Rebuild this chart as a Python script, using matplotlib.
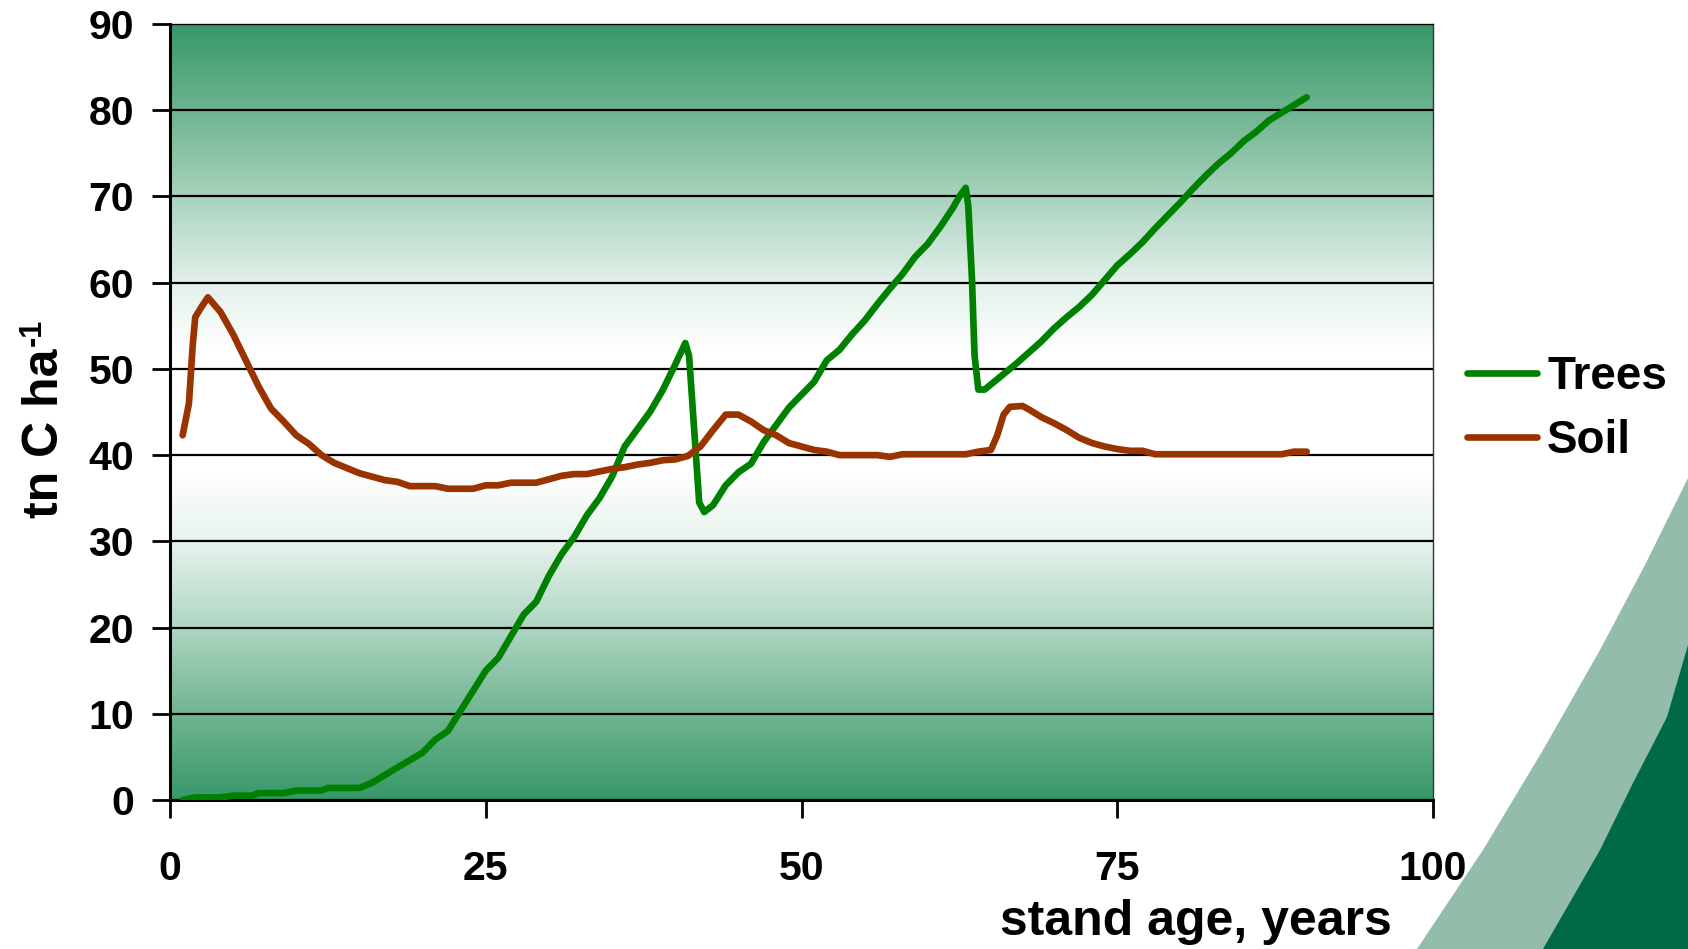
import numpy as np
import matplotlib
matplotlib.use("Agg")
import matplotlib.pyplot as plt
from matplotlib.patches import Polygon

plt.rcParams['font.family'] = ['Liberation Sans', 'DejaVu Sans']
plt.rcParams['font.weight'] = 'bold'

# ---- data ----
trees_x = [1, 2, 4, 5, 6.5, 7, 9, 10, 12, 12.5, 15, 16, 17.7, 20, 21, 22, 25, 26, 27, 28, 29, 30,
           31, 32, 33, 34, 35, 36, 37, 38, 39, 40, 40.8, 41.1, 41.5, 41.9, 42.3, 43, 44, 45, 46,
           47, 48, 49, 50, 51, 52, 53, 54, 55, 56, 57, 58, 59, 60, 61, 62, 62.5, 63, 63.2, 63.5,
           63.7, 64, 64.5, 65, 66, 67, 68, 69, 70, 71, 72, 73, 74, 75, 76, 77, 78, 79, 80, 81, 82,
           83, 84, 85, 86, 87, 88, 89, 90]
trees_y = [0, 0.3, 0.3, 0.5, 0.5, 0.8, 0.8, 1.1, 1.1, 1.4, 1.4, 2.0, 3.5, 5.5, 7, 8, 15, 16.5, 19,
           21.5, 23, 26, 28.5, 30.5, 33, 35, 37.5, 41, 43, 45, 47.5, 50.5, 53, 51.5, 43, 34.5,
           33.4, 34.2, 36.5, 38, 39, 41.5, 43.5, 45.5, 47, 48.5, 51, 52.2, 54, 55.6, 57.5, 59.3,
           61, 63, 64.5, 66.5, 68.7, 70, 71, 69, 60.3, 51.6, 47.6, 47.6, 48.2, 49.4, 50.6, 51.9,
           53.2, 54.7, 56, 57.2, 58.6, 60.3, 62, 63.3, 64.7, 66.3, 67.8, 69.3, 70.9, 72.4, 73.8,
           75, 76.4, 77.5, 78.8, 79.7, 80.6, 81.5]

soil_x = [1, 1.5, 1.8, 2, 2.5, 3, 4, 5, 6, 7, 8, 9, 10, 11, 12, 13, 14, 15, 16, 17, 18, 19, 21,
          22, 24, 25, 26, 27, 29, 30, 31, 32, 33, 34, 35, 36, 37, 38, 39, 40, 41, 42, 43, 44, 45,
          46, 47, 48, 49, 50, 51, 52, 53, 56, 57, 58, 63, 64, 65, 65.5, 66, 66.5, 67.5, 68, 69,
          70, 71, 72, 73, 74, 75, 76, 77, 78, 88, 89, 90]
soil_y = [42.3, 46, 52.8, 56, 57.2, 58.3, 56.6, 54, 51, 48, 45.4, 43.9, 42.3, 41.3, 40, 39.1,
          38.5, 37.9, 37.5, 37.1, 36.9, 36.4, 36.4, 36.1, 36.1, 36.5, 36.5, 36.8, 36.8, 37.2,
          37.6, 37.8, 37.8, 38.1, 38.4, 38.6, 38.9, 39.1, 39.4, 39.5, 39.9, 41, 42.9, 44.7, 44.7,
          43.9, 42.9, 42.3, 41.4, 41, 40.6, 40.4, 40, 40, 39.8, 40.1, 40.1, 40.4, 40.6, 42.3,
          44.7, 45.6, 45.7, 45.3, 44.4, 43.7, 42.9, 42, 41.4, 41, 40.7, 40.5, 40.5, 40.1, 40.1,
          40.4, 40.4]

x_ticks = [0, 25, 50, 75, 100]
y_ticks = [0, 10, 20, 30, 40, 50, 60, 70, 80, 90]

# ---- figure ----
W, H = 1688, 949
fig = plt.figure(figsize=(W / 100, H / 100), dpi=100)
fig.patch.set_facecolor('white')

# decorative swooshes bottom-right (figure coordinates)
def fpts(pts):
    return [(x / W, 1 - y / H) for x, y in pts]

light = fpts([(1688, 478), (1645, 565), (1600, 650), (1543, 750), (1483, 850), (1417, 949),
              (1688, 949)])
dark = fpts([(1688, 645), (1667, 717), (1633, 783), (1600, 850), (1543, 949), (1688, 949)])
fig.patches.append(Polygon(light, closed=True, transform=fig.transFigure,
                           facecolor='#93bcab', edgecolor='none', zorder=0))
fig.patches.append(Polygon(dark, closed=True, transform=fig.transFigure,
                           facecolor='#006a48', edgecolor='none', zorder=0))

ax = fig.add_axes([170 / W, 1 - 800 / H, (1433 - 170) / W, (800 - 24) / H])
ax.set_xlim(0, 100)
ax.set_ylim(0, 90)

# gradient background
vals = np.linspace(0, 90, 400)
nodes_v = [0, 10, 20, 30, 38, 52, 60, 70, 80, 90]
nodes_t = [0.0, 0.28, 0.6, 0.88, 1.0, 1.0, 0.86, 0.57, 0.27, 0.0]
t = np.interp(vals, nodes_v, nodes_t)
green = np.array([56, 152, 104]) / 255.0
white = np.array([1.0, 1.0, 1.0])
img = green[None, :] * (1 - t[:, None]) + white[None, :] * t[:, None]
img = img[:, None, :]
ax.imshow(img, extent=[0, 100, 0, 90], origin='lower', aspect='auto', zorder=0)

ax.set_yticks(y_ticks)
ax.set_xticks(x_ticks)
ax.grid(axis='y', color='black', linewidth=1.6, zorder=1)
ax.set_axisbelow(False)

ax.plot(trees_x, trees_y, color='#008000', linewidth=4.8, label='Trees', zorder=3,
        solid_joinstyle='round', solid_capstyle='round')
ax.plot(soil_x, soil_y, color='#993300', linewidth=4.8, label='Soil', zorder=3,
        solid_joinstyle='round', solid_capstyle='round')

for s in ['top', 'right']:
    ax.spines[s].set_linewidth(1.0)
    ax.spines[s].set_color('#333333')
for s in ['left', 'bottom']:
    ax.spines[s].set_linewidth(2.2)
    ax.spines[s].set_color('black')

ax.tick_params(axis='both', direction='out', length=13, width=2, color='black',
               labelsize=29.5)
ax.tick_params(axis='y', pad=13)
ax.tick_params(axis='x', pad=23)
for lab in ax.get_xticklabels() + ax.get_yticklabels():
    lab.set_fontweight('bold')

# y label with superscript
fig.text(45 / W, 1 - 433 / H, 'tn C ha', rotation=90, fontsize=36,
         fontweight='bold', ha='center', va='center')
fig.text(33 / W, 1 - 346 / H, '-1', rotation=90, fontsize=22,
         fontweight='bold', ha='center', va='bottom')

fig.text(1392 / W, 1 - 922 / H, 'stand age, years', fontsize=36, fontweight='bold',
         ha='right', va='center')

leg = fig.legend(loc='center left', bbox_to_anchor=(1467 / W, 1 - 409 / H), frameon=False,
                 handlelength=1.53, handletextpad=0.22, labelspacing=0.42,
                 borderpad=0, borderaxespad=0,
                 prop={'weight': 'bold', 'size': 33})
for line in leg.get_lines():
    line.set_solid_capstyle('round')

fig.savefig('out.png', dpi=100)
